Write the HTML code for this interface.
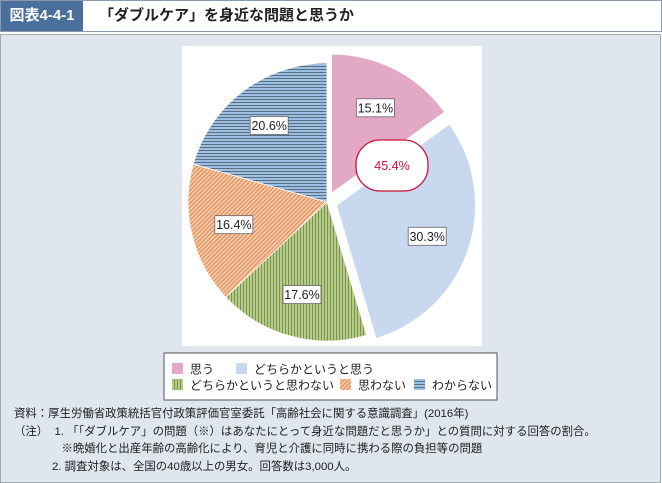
<!DOCTYPE html>
<html><head><meta charset="utf-8"><style>
body{margin:0;width:662px;height:483px;position:relative;overflow:hidden;background:#fff;font-family:"Liberation Sans","Noto Sans CJK JP",sans-serif;}
#hdr{position:absolute;left:0;top:0;width:660px;height:30px;border:1px solid #8a9bb0;background:#fff;}
#tag{position:absolute;left:0;top:0;width:82px;height:30px;background:#4a6f9c;color:#fff;font-weight:bold;font-size:15px;line-height:30px;text-align:center;}
#title{position:absolute;left:98px;top:0;line-height:30px;font-size:15px;font-weight:bold;color:#222;}
#panel{position:absolute;left:0;top:34px;width:659px;height:447px;background:#dfe6ee;border:1px solid #9aa;border-top:1px solid #aaa;}
#notes{position:absolute;left:14px;top:406px;font-size:11.4px;color:#222;line-height:17.5px;white-space:pre;}
</style></head><body>
<div id="hdr"><div id="tag">図表4-4-1</div><div id="title">「ダブルケア」を身近な問題と思うか</div></div>
<div id="panel"></div>
<svg id="chart" width="662" height="483" style="position:absolute;left:0;top:0">
<defs>
<pattern id="pg" width="3" height="4" patternUnits="userSpaceOnUse"><rect width="3" height="4" fill="#b3cf78"/><rect width="1" height="4" fill="#7f8a70"/></pattern>
<pattern id="po" width="3" height="3" patternUnits="userSpaceOnUse" patternTransform="rotate(45)"><rect width="3" height="3" fill="#e89c6a"/><rect width="1" height="3" fill="#fbe0cc"/></pattern>
<pattern id="pb" width="4" height="3" patternUnits="userSpaceOnUse"><rect width="4" height="3" fill="#9cc0e4"/><rect width="4" height="1" fill="#5d6e80"/></pattern>
</defs>
<rect x="182" y="46" width="300" height="300" fill="#fff"/>
<g id="slices"></g>
<g id="labels"></g>
<rect x="164" y="353" width="333" height="47" fill="#fff" stroke="#555" stroke-width="1"/>
<g id="legend"></g>
</svg>
<div id="notes">資料：厚生労働省政策統括官付政策評価官室委託「高齢社会に関する意識調査」(2016年)
（注）  1. 「「ダブルケア」の問題（※）はあなたにとって身近な問題だと思うか」との質問に対する回答の割合。
               ※晩婚化と出産年齢の高齢化により、育児と介護に同時に携わる際の負担等の問題
            2. 調査対象は、全国の40歳以上の男女。回答数は3,000人。</div>
<script>
const categories=["思う","どちらかというと思う","どちらかというと思わない","思わない","わからない"];
const values=[15.1,30.3,17.6,16.4,20.6];
const fills=["#e3a8c5","#c8d8ef","url(#pg)","url(#po)","url(#pb)"];
const exploded=[true,true,false,false,false];
const groupLabel="45.4%";
const NS="http://www.w3.org/2000/svg";
const cx=327,cy=202,R=139,EX=10;
const total=values.reduce((a,b)=>a+b,0);
function pt(a,r,ox,oy){return [ox+r*Math.sin(a),oy-r*Math.cos(a)];}
let start=0;
const sg=document.getElementById('slices'),lg=document.getElementById('labels');
values.forEach((v,i)=>{
  const sweep=v/total*2*Math.PI,end=start+sweep,mid=start+sweep/2;
  const ox=cx+(exploded[i]?EX*Math.sin(mid):0),oy=cy-(exploded[i]?EX*Math.cos(mid):0);
  const p1=pt(start,R,ox,oy),p2=pt(end,R,ox,oy);
  const p=document.createElementNS(NS,'path');
  p.setAttribute('d',`M${ox},${oy}L${p1[0]},${p1[1]}A${R},${R} 0 ${sweep>Math.PI?1:0} 1 ${p2[0]},${p2[1]}Z`);
  p.setAttribute('fill',fills[i]);p.setAttribute('stroke','#fff');p.setAttribute('stroke-width','0.8');
  
  
  sg.appendChild(p);
  const lp=pt(mid,R*0.69,ox,oy);
  const t=v.toFixed(1)+'%';
  const w=38,h=18;
  const r=document.createElementNS(NS,'rect');
  r.setAttribute('x',lp[0]-w/2);r.setAttribute('y',lp[1]-h/2);r.setAttribute('width',w);r.setAttribute('height',h);
  r.setAttribute('fill','#fff');r.setAttribute('stroke','#666');r.setAttribute('stroke-width','0.8');
  
  
  lg.appendChild(r);
  const tx=document.createElementNS(NS,'text');
  tx.setAttribute('x',lp[0]);tx.setAttribute('y',lp[1]+4.5);tx.setAttribute('text-anchor','middle');tx.setAttribute('font-size','12.5');tx.setAttribute('fill','#222');
  tx.textContent=t;
  
  
  lg.appendChild(tx);
  start=end;
});
const ov=document.createElementNS(NS,'rect');
ov.setAttribute('x',356);ov.setAttribute('y',140);ov.setAttribute('width',72);ov.setAttribute('height',51);ov.setAttribute('rx',24);
ov.setAttribute('fill','#fff');ov.setAttribute('stroke','#d0103a');ov.setAttribute('stroke-width','1.3');


lg.appendChild(ov);
const ot=document.createElementNS(NS,'text');
ot.setAttribute('x',392);ot.setAttribute('y',170);ot.setAttribute('text-anchor','middle');ot.setAttribute('font-size','12.5');ot.setAttribute('fill','#d0103a');
ot.textContent=groupLabel;


lg.appendChild(ot);
const legPos=[[172,369],[236,369],[172,385],[340,385],[414,385]];
const leg=document.getElementById('legend');
categories.forEach((c,i)=>{
  const g=document.createElementNS(NS,'g');
  
  
  const s=document.createElementNS(NS,'rect');
  s.setAttribute('x',legPos[i][0]);s.setAttribute('y',legPos[i][1]-6);s.setAttribute('width',11);s.setAttribute('height',11);s.setAttribute('fill',fills[i]);
  g.appendChild(s);
  const t=document.createElementNS(NS,'text');
  t.setAttribute('x',legPos[i][0]+18);t.setAttribute('y',legPos[i][1]+4.5);t.setAttribute('font-size','12');t.setAttribute('fill','#222');
  t.textContent=c;
  g.appendChild(t);
  leg.appendChild(g);
});
</script>
</body></html>
